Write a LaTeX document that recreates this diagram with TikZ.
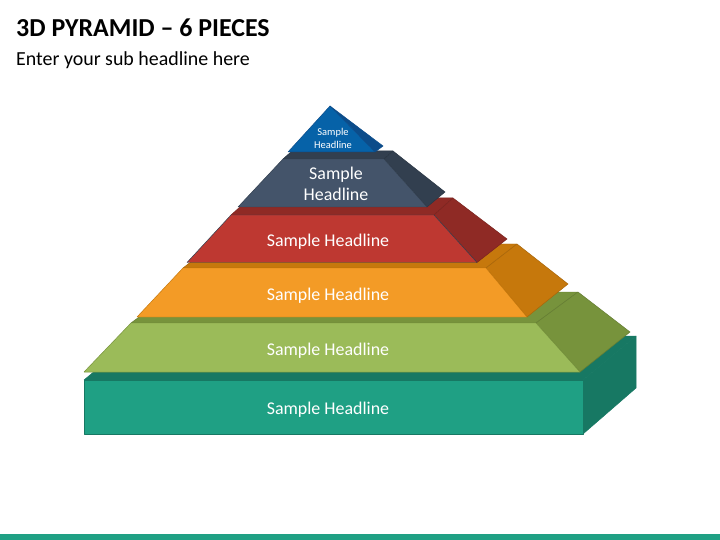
\documentclass[tikz,border=0pt]{standalone}
\usepackage{fontspec}
\setmainfont{Carlito}
\usetikzlibrary{positioning}

\definecolor{tealFront}{RGB}{31,160,132}
\definecolor{tealSide}{RGB}{23,120,99}
\definecolor{greenFront}{RGB}{155,187,89}
\definecolor{greenSide}{RGB}{119,147,60}
\definecolor{orangeFront}{RGB}{243,155,38}
\definecolor{orangeSide}{RGB}{198,120,12}
\definecolor{redFront}{RGB}{190,56,49}
\definecolor{redSide}{RGB}{143,42,37}
\definecolor{slateFront}{RGB}{68,84,106}
\definecolor{slateSide}{RGB}{50,63,79}
\definecolor{blueFront}{RGB}{6,98,168}
\definecolor{blueSide}{RGB}{12,76,138}

\begin{document}
\begin{tikzpicture}[x=1bp, y=-1bp,
  face/.style={line width=0.5pt, line join=round},
  headtxt/.style={text=white, font=\fontsize{18}{21.6}\selectfont, align=center, inner sep=0pt}]
  \useasboundingbox (0,0) rectangle (720,540);

  % Title
  \node[anchor=base west, inner sep=0pt, font=\fontsize{26}{30}\selectfont\bfseries] (title) at (16,37) {3D PYRAMID -- 6 PIECES};
  \node[anchor=base west, inner sep=0pt, font=\fontsize{20}{24}\selectfont] (subtitle) at (16,66) {Enter your sub headline here};

  % Bottom block
  \draw[face, draw=tealSide, fill=tealSide] (84,380) -- (583,380) -- (636,336) -- (137,336) -- cycle;
  \draw[face, draw=tealSide, fill=tealSide] (583,380) -- (636,336) -- (636,388) -- (583,434) -- cycle;
  \draw[face, draw=tealSide, fill=tealFront] (84,380) rectangle (583,434);
  \node[headtxt] (tealtxt) at (328,410) {Sample Headline};

  % Green layer
  \draw[face, draw=greenSide!85!black, fill=greenSide] (131,323) -- (536,323) -- (578,292) -- (173,292) -- cycle;
  \draw[face, draw=greenSide!85!black, fill=greenSide] (536,323) -- (578,292) -- (630,332) -- (580,372) -- cycle;
  \draw[face, draw=greenSide, fill=greenFront] (84,372) -- (580,372) -- (536,323) -- (131,323) -- cycle;
  \node[headtxt] (greentxt) at (328,351) {Sample Headline};

  % Orange layer
  \draw[face, draw=orangeSide!85!black, fill=orangeSide] (183,268) -- (486,268) -- (517,244) -- (214,244) -- cycle;
  \draw[face, draw=orangeSide!85!black, fill=orangeSide] (486,268) -- (517,244) -- (568,284) -- (527,317) -- cycle;
  \draw[face, draw=orangeSide, fill=orangeFront] (137,317) -- (527,317) -- (486,268) -- (183,268) -- cycle;
  \node[headtxt] (orangetxt) at (328,296) {Sample Headline};

  % Red layer
  \draw[face, draw=redSide!85!black, fill=redSide] (231,215) -- (434,215) -- (453,198) -- (250,198) -- cycle;
  \draw[face, draw=redSide!85!black, fill=redSide] (434,215) -- (453,198) -- (507,239) -- (477,262.5) -- cycle;
  \draw[face, draw=slateSide, fill=redFront] (187,262.5) -- (477,262.5) -- (434,215) -- (231,215) -- cycle;
  \node[headtxt] (redtxt) at (328,242) {Sample Headline};

  % Slate layer
  \draw[face, draw=slateSide!85!black, fill=slateSide] (283,159) -- (384,159) -- (393,151) -- (292,151) -- cycle;
  \draw[face, draw=slateSide!85!black, fill=slateSide] (384,159) -- (393,151) -- (445,192) -- (427,207) -- cycle;
  \draw[face, draw=slateSide, fill=slateFront] (238,207) -- (427,207) -- (384,159) -- (283,159) -- cycle;
  \node[headtxt] (slatetxt) at (336,184) {Sample\\Headline};

  % Top piece
  \draw[face, draw=blueSide, fill=blueSide] (330,106) -- (383,146) -- (375,152) -- cycle;
  \draw[face, draw=blueSide, fill=blueFront] (288,152) -- (375,152) -- (330,106) -- cycle;
  \node[headtxt, font=\fontsize{10.5}{13}\selectfont] (bluetxt) at (333,138) {Sample\\Headline};

  % Bottom bar
  \fill[tealFront] (0,534) rectangle (720,540);
\end{tikzpicture}
\end{document}
